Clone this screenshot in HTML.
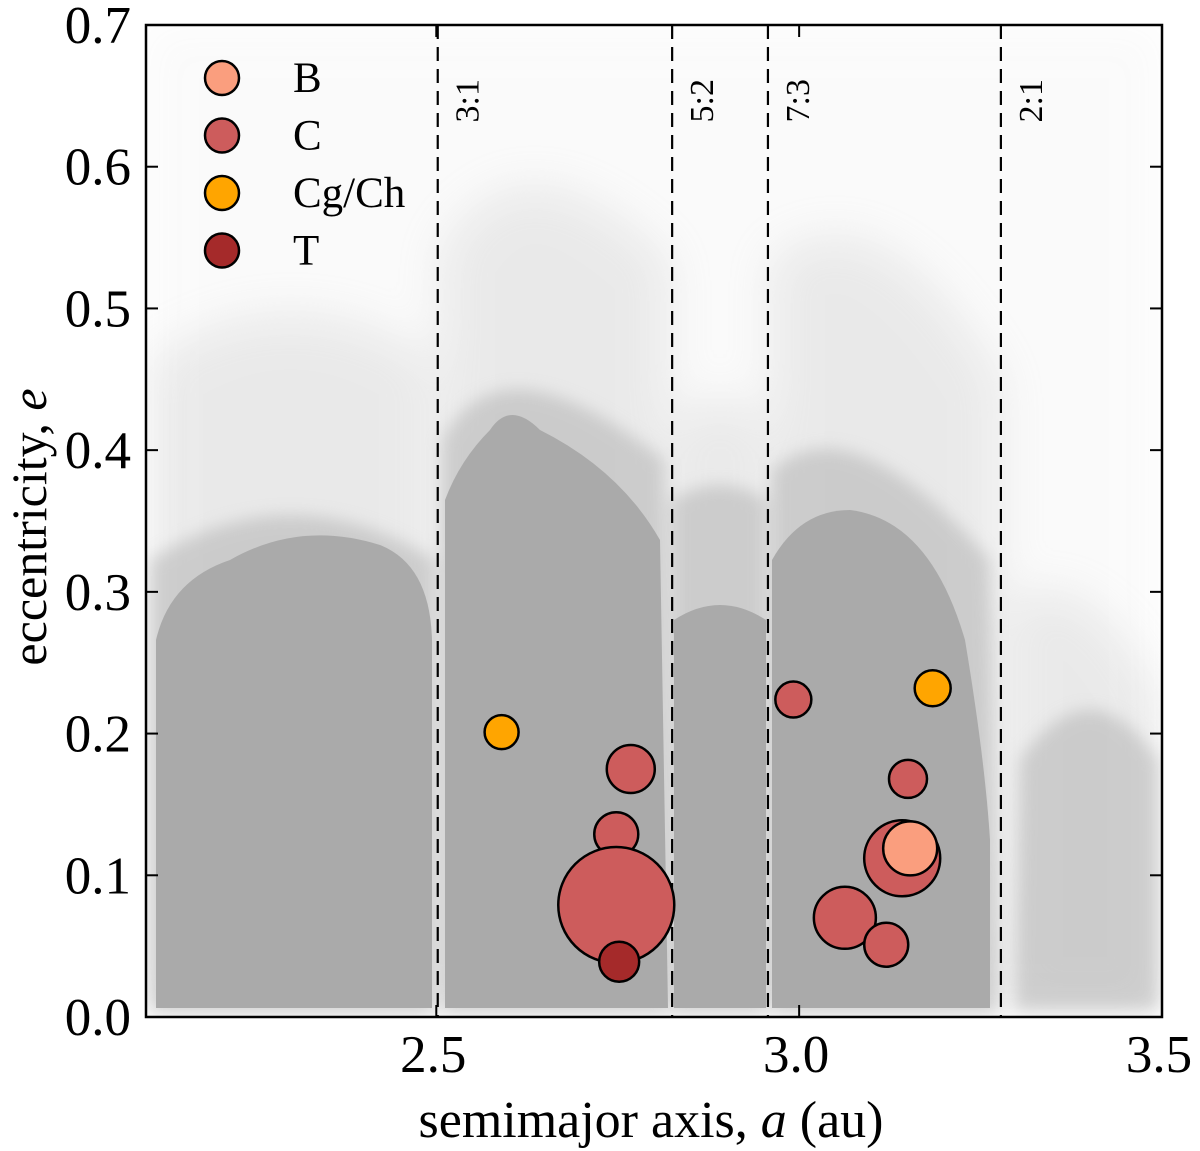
<!DOCTYPE html>
<html><head><meta charset="utf-8"><style>
html,body{margin:0;padding:0;background:#fff;}
svg{display:block;font-family:"Liberation Serif",serif;}
</style></head><body>
<svg id="chart" width="1200" height="1151" viewBox="0 0 1200 1151" xmlns="http://www.w3.org/2000/svg">
<defs>
<filter id="blur8" x="-20%" y="-20%" width="140%" height="140%"><feGaussianBlur stdDeviation="8"/></filter>
<filter id="blur20" x="-30%" y="-30%" width="160%" height="160%"><feGaussianBlur stdDeviation="22"/></filter>
<clipPath id="plotclip"><rect x="146" y="25" width="1016" height="992"/></clipPath>
</defs>
<g id="background" clip-path="url(#plotclip)">
<g filter="url(#blur20)" opacity="0.25" fill="#bbb">
<path d="M150,1010 L150,360 Q290,270 432,360 L432,1010 Z"/>
<path d="M442,1010 L442,250 Q520,120 668,260 L668,1010 Z"/>
<path d="M674,1010 L674,420 Q720,380 766,420 L766,1010 Z"/>
<path d="M772,1010 L772,260 Q880,180 1000,380 L1000,1010 Z"/>
<path d="M1010,1010 L1010,600 Q1090,560 1160,700 L1160,1010 Z"/>
</g>
<g filter="url(#blur20)" opacity="0.05" fill="#aaa">
<rect x="146" y="25" width="1016" height="992"/>
</g>
<g filter="url(#blur8)" opacity="0.55" fill="#b4b4b4">
<path d="M150,1012 L150,560 Q290,470 434,560 L434,1012 Z"/>
<path d="M442,1012 L442,440 Q500,330 664,460 L668,1012 Z"/>
<path d="M672,1012 L672,500 Q720,470 766,500 L766,1012 Z"/>
<path d="M772,1012 L772,470 Q850,400 990,560 L998,1012 Z"/>
<path d="M1015,1010 L1020,760 Q1090,660 1158,760 L1158,1010 Z"/>
</g>
<g fill="#aaaaaa">
<path d="M156,1008 L156,640 Q170,580 230,560 Q300,520 380,545 Q430,565 432,640 L432,1008 Z"/>
<path d="M445,1008 L445,500 Q460,460 490,430 Q510,400 540,430 Q620,470 660,540 L668,1008 Z"/>
<path d="M674,1008 L674,620 Q720,590 766,620 L766,1008 Z"/>
<path d="M772,1008 L772,560 Q800,510 850,510 Q930,520 965,640 Q985,760 990,840 L990,1008 Z"/>
</g>
</g>
<g id="resonances"></g>
<g id="bubbles"></g>
<rect x="146" y="25" width="1016" height="992" fill="none" stroke="#000" stroke-width="2.5"/>
<g id="axes"></g>
<text x="651" y="1137" font-size="52" text-anchor="middle">semimajor axis, <tspan font-style="italic">a</tspan> (au)</text>
<text transform="translate(46,527) rotate(-90)" font-size="50" text-anchor="middle">eccentricity, <tspan font-style="italic">e</tspan></text>
<g id="legend"></g>
</svg>
<script>
const xTicks = [2.5, 3.0, 3.5];
const xTickLabels = ["2.5", "3.0", "3.5"];
const yTicks = [0.0, 0.1, 0.2, 0.3, 0.4, 0.5, 0.6, 0.7];
const yTickLabels = ["0.0", "0.1", "0.2", "0.3", "0.4", "0.5", "0.6", "0.7"];
const resonanceA = [2.502, 2.825, 2.957, 3.278];
const resonanceLabels = ["3:1", "5:2", "7:3", "2:1"];
const bubbleA = [2.59, 2.768, 2.748, 2.748, 2.752, 2.992, 3.184, 3.150, 3.142, 3.153, 3.063, 3.120];
const bubbleE = [0.201, 0.175, 0.129, 0.079, 0.039, 0.224, 0.232, 0.168, 0.112, 0.119, 0.070, 0.051];
const bubbleSize = [17, 24, 22, 58, 20, 18, 18, 19, 38, 27, 31, 22];
const bubbleType = ["Cg/Ch", "C", "C", "C", "T", "C", "Cg/Ch", "C", "C", "B", "C", "C"];
const legendTypes = ["B", "C", "Cg/Ch", "T"];
const typeColor = {"B": "#fa9e7e", "C": "#cd5c5c", "Cg/Ch": "#ffa500", "T": "#a52a2a"};

const NS = "http://www.w3.org/2000/svg";
const X0 = 146, X1 = 1162, Y0 = 1017, Y1 = 25;
const xScale = a => X0 + (a - 2.1) / (3.5 - 2.1) * (X1 - X0);
const yScale = e => Y0 - e / 0.7 * (Y0 - Y1);
function mk(tag, attrs, parent) {
  const el = document.createElementNS(NS, tag);
  for (const k in attrs) el.setAttribute(k, attrs[k]);
  parent.appendChild(el);
  return el;
}
const axes = document.getElementById("axes");
xTicks.forEach((t, i) => {
  const x = xScale(t);
  const b = mk("line", {x1: x, x2: x, y1: Y0, y2: Y0 - 12, stroke: "#000", "stroke-width": 2}, axes);
  
  
  const tp = mk("line", {x1: x, x2: x, y1: Y1, y2: Y1 + 12, stroke: "#000", "stroke-width": 2}, axes);
  
  
  const lb = mk("text", {x: x - 3, y: 1072, "font-size": 53, "text-anchor": "middle"}, axes);
  lb.textContent = xTickLabels[i];
  
  
});
yTicks.forEach((t, i) => {
  const y = yScale(t);
  const l = mk("line", {x1: X0, x2: X0 + 12, y1: y, y2: y, stroke: "#000", "stroke-width": 2}, axes);
  
  
  const r = mk("line", {x1: X1, x2: X1 - 12, y1: y, y2: y, stroke: "#000", "stroke-width": 2}, axes);
  
  
  const lb = mk("text", {x: 131, y: y + 18, "font-size": 53, "text-anchor": "end"}, axes);
  lb.textContent = yTickLabels[i];
  
  
});
const res = document.getElementById("resonances");
resonanceA.forEach((a, i) => {
  const x = xScale(a);
  const l = mk("line", {x1: x, x2: x, y1: Y1, y2: Y0, stroke: "#000", "stroke-width": 2.2, "stroke-dasharray": "14,8"}, res);
  
  
  const tx = mk("text", {transform: `translate(${x + 41},${Y1 + 54}) rotate(-90)`, "font-size": 34, "text-anchor": "end"}, res);
  tx.textContent = resonanceLabels[i];
  
  
});
const bub = document.getElementById("bubbles");
bubbleA.forEach((a, i) => {
  const c = mk("circle", {cx: xScale(a), cy: yScale(bubbleE[i]), r: bubbleSize[i], fill: typeColor[bubbleType[i]], stroke: "#000", "stroke-width": 2.5}, bub);
  
  
});
const leg = document.getElementById("legend");
legendTypes.forEach((t, i) => {
  const y = 78 + i * 57.5;
  const c = mk("circle", {cx: 222, cy: y, r: 17, fill: typeColor[t], stroke: "#000", "stroke-width": 2.5}, leg);
  
  
  const tx = mk("text", {x: 293, y: y + 14, "font-size": 43}, leg);
  tx.textContent = t;
  
  
});
</script>
</body></html>
